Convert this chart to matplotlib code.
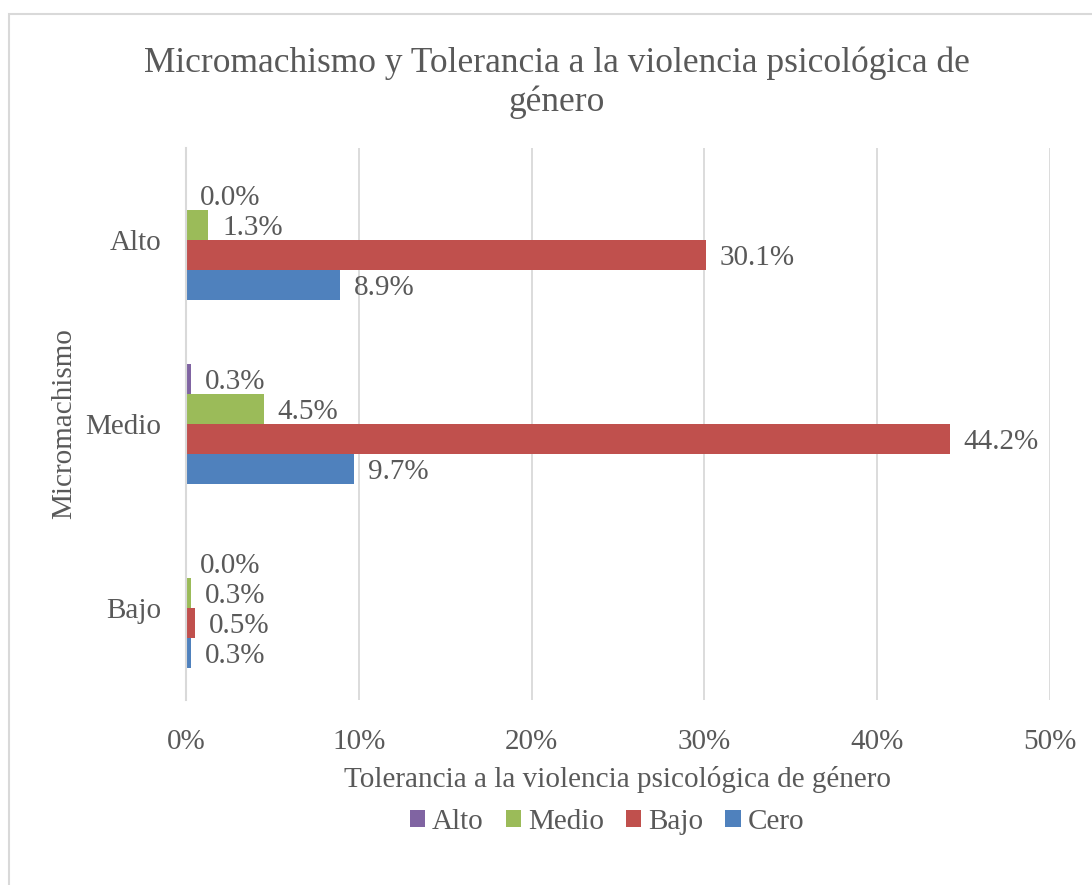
import numpy as np
import matplotlib.pyplot as plt
from matplotlib.patches import Rectangle
from matplotlib.ticker import PercentFormatter

plt.rcParams['font.family'] = ['Liberation Serif', 'DejaVu Serif']

categories = ['Bajo', 'Medio', 'Alto']
series_names = ['Alto', 'Medio', 'Bajo', 'Cero']
series_colors = ['#8064A2', '#9BBB59', '#C0504D', '#4F81BD']

# values per series, in category order Bajo, Medio, Alto
alto_vals = [0.0, 0.3, 0.0]
medio_vals = [0.3, 4.5, 1.3]
bajo_vals = [0.5, 44.2, 30.1]
cero_vals = [0.3, 9.7, 8.9]
series_vals = [alto_vals, medio_vals, bajo_vals, cero_vals]

TEXT = '#595959'
GRID = '#D9D9D9'
FS = 21

fig = plt.figure(figsize=(10.92, 8.85), dpi=100)
fig.patches.append(Rectangle((9 / 1092, -0.1), 1.2, 1 - 14 / 885 + 0.1,
                             transform=fig.transFigure, fill=False,
                             edgecolor=GRID, linewidth=1.5))

ax = fig.add_axes([186 / 1092, 1 - 700 / 885, 864 / 1092, 552 / 885])

y = np.arange(len(categories))
h = 0.163
offsets = [1.5 * h, 0.5 * h, -0.5 * h, -1.5 * h]

for name, vals, col, off in zip(series_names, series_vals, series_colors, offsets):
    bars = ax.barh(y + off, vals, height=h, color=col, label=name)
    for b, v in zip(bars, vals):
        ax.annotate(f'{v:.1f}%', (b.get_width(), b.get_y() + h / 2),
                    xytext=(10, 0), textcoords='offset points',
                    ha='left', va='center_baseline', fontsize=FS, color=TEXT)

ax.set_xlim(0, 50)
ax.set_ylim(-0.5, 2.5)
ax.set_xticks(np.arange(0, 51, 10))
ax.xaxis.set_major_formatter(PercentFormatter(decimals=0))
ax.set_yticks(y)
ax.set_yticklabels(categories)
ax.grid(axis='x', color=GRID, linewidth=1.3)
ax.set_axisbelow(True)
for s in ['top', 'right', 'bottom']:
    ax.spines[s].set_visible(False)
ax.spines['left'].set_color(GRID)
ax.spines['left'].set_linewidth(1.5)
ax.tick_params(length=0, labelsize=FS, labelcolor=TEXT)
ax.tick_params(axis='y', pad=18)
ax.tick_params(axis='x', pad=21)

ax.set_xlabel('Tolerancia a la violencia psicológica de género',
              fontsize=FS, color=TEXT, labelpad=8)
ax.set_ylabel('Micromachismo', fontsize=FS, color=TEXT, labelpad=5.5)

fig.text(557 / 1092, 1 - 83 / 885,
         'Micromachismo y Tolerancia a la violencia psicológica de\ngénero',
         ha='center', va='center', fontsize=25.5, color=TEXT, linespacing=1.2)

ax.legend(loc='center', bbox_to_anchor=(607 / 1092, 1 - 822 / 885),
          bbox_transform=fig.transFigure, ncol=4, frameon=False,
          fontsize=FS, labelcolor=TEXT, handlelength=0.52, handleheight=0.52,
          handletextpad=0.25, columnspacing=0.75)

fig.savefig('out.png', dpi=100)
